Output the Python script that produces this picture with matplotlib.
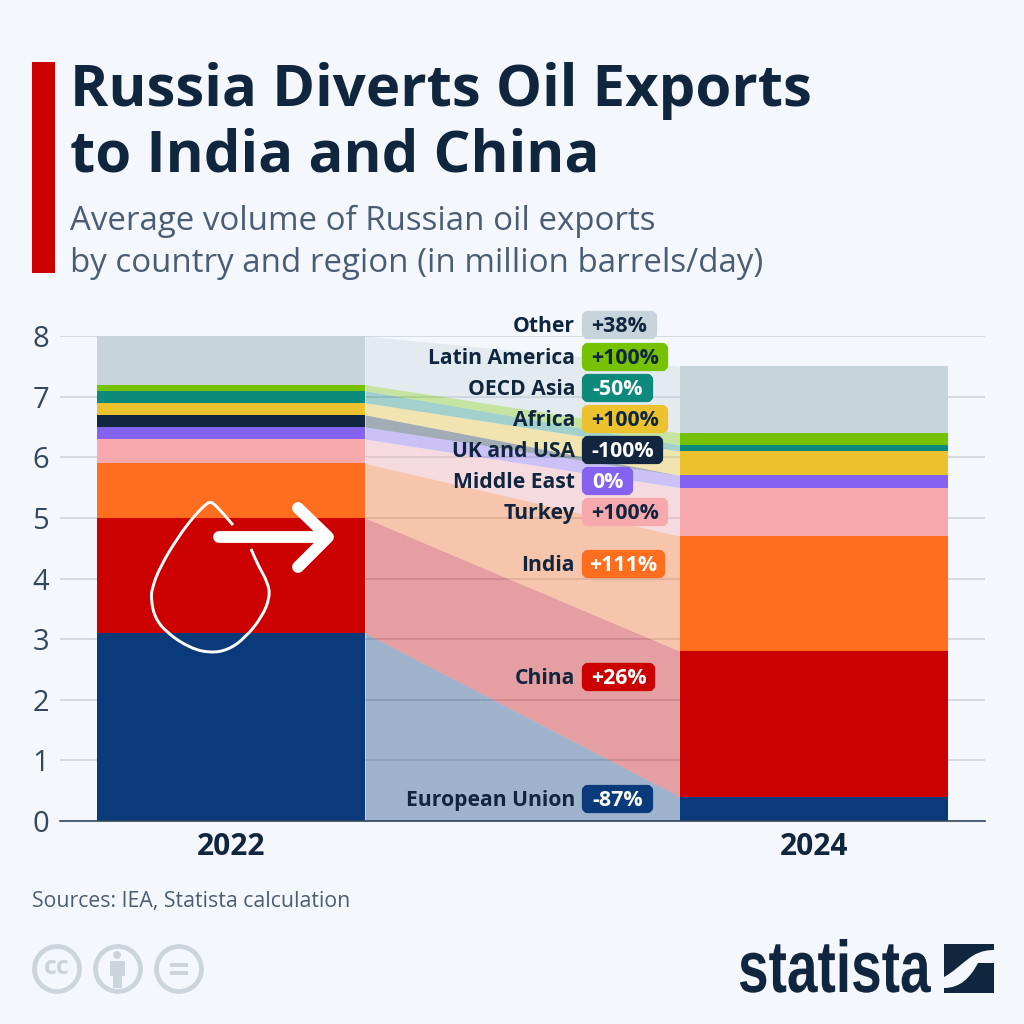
import matplotlib.pyplot as plt
from matplotlib.patches import Circle, FancyBboxPatch, PathPatch, Rectangle
from matplotlib.patheffects import AbstractPathEffect
from matplotlib.path import Path
from matplotlib.transforms import Affine2D

BG = '#f4f8fc'
NAVY = '#10263f'
SLATE = '#4a5d75'
ICON = '#ccd5dc'

plt.rcParams['font.family'] = ['Open Sans', 'DejaVu Sans']

years = ['2022', '2024']
regions = ['European Union', 'China', 'India', 'Turkey', 'Middle East',
           'UK and USA', 'Africa', 'OECD Asia', 'Latin America', 'Other']
volume_2022 = [3.1, 1.9, 0.9, 0.4, 0.2, 0.2, 0.2, 0.2, 0.1, 0.8]
volume_2024 = [0.4, 2.4, 1.9, 0.8, 0.2, 0.0, 0.4, 0.1, 0.2, 1.1]
changes = ['-87%', '+26%', '+111%', '+100%', '0%',
           '-100%', '+100%', '-50%', '+100%', '+38%']
colors = ['#0b3a7a', '#cc0000', '#ff6d1f', '#f7a9ae', '#8662f0',
          '#12263f', '#ecc32e', '#0e8a7c', '#77c200', '#c7d4dc']
badge_text = ['white', 'white', 'white', NAVY, 'white',
              'white', NAVY, 'white', NAVY, NAVY]

# pixel layout of the labels in the middle, same order as regions
label_y = [799, 677, 564, 512, 481, 450, 419, 388, 357, 325]
badge_w = [71, 73, 83, 86, 51, 81, 86, 71, 86, 75]

BAR_W = 268 / 583


class StretchY(AbstractPathEffect):
    # the logo lettering is much narrower than any installed font
    def __init__(self, factor):
        super().__init__()
        self.factor = factor

    def draw_path(self, renderer, gc, tpath, affine, rgbFace=None):
        renderer.draw_path(gc, tpath, Affine2D().scale(1, self.factor) + affine, rgbFace)


fig = plt.figure(figsize=(10.24, 10.24), dpi=100, facecolor=BG)

# chart axes, 0 to 8 runs from y=821 to y=336 in the picture
ax = fig.add_axes([60 / 1024, 1 - 821 / 1024, 925 / 1024, 485 / 1024])
ax.set_facecolor('none')
ax.set_xlim(-171 / 583, 1 + 171 / 583)
ax.set_ylim(0, 8)

bottom_a, bottom_b = 0, 0
for i, region in enumerate(regions):
    a, b = volume_2022[i], volume_2024[i]
    ax.bar(0, a, BAR_W, bottom=bottom_a, color=colors[i], zorder=3)
    ax.bar(1, b, BAR_W, bottom=bottom_b, color=colors[i], zorder=3)
    ax.fill_between([BAR_W / 2, 1 - BAR_W / 2],
                    [bottom_a, bottom_b],
                    [bottom_a + a, bottom_b + b],
                    color=colors[i], alpha=0.36, lw=0, zorder=2)
    bottom_a += a
    bottom_b += b

ax.set_yticks(range(9))
ax.set_xticks([0, 1], years, fontsize=21.5, fontweight='bold', color=NAVY)
ax.tick_params(axis='x', length=0, pad=8)
ax.tick_params(axis='y', length=0, pad=8, labelsize=21, labelcolor='#33475f')
ax.grid(axis='y', color='#c9d2da', lw=1.1, zorder=1)
for side in ['top', 'left', 'right']:
    ax.spines[side].set_visible(False)
ax.spines['bottom'].set_color('#33475f')
ax.spines['bottom'].set_linewidth(1.2)
ax.spines['bottom'].set_zorder(5)
ax.set_axisbelow(True)

# overlay in picture pixels for header, badges, footer and the hand drawing
ov = fig.add_axes([0, 0, 1, 1], zorder=10)
ov.set_xlim(0, 1024)
ov.set_ylim(1024, 0)
ov.axis('off')

ov.add_patch(Rectangle((32, 62), 23, 211, color='#cc0000', lw=0))
ov.text(70, 91, 'Russia Diverts Oil Exports', fontsize=41.9, fontweight='bold',
        color=NAVY, va='center')
ov.text(70, 157, 'to India and China', fontsize=41.9, fontweight='bold',
        color=NAVY, va='center')
ov.text(70, 221, 'Average volume of Russian oil exports', fontsize=23.75,
        color=SLATE, va='center')
ov.text(70, 263, 'by country and region (in million barrels/day)', fontsize=23.75,
        color=SLATE, va='center')

for i, region in enumerate(regions):
    y = label_y[i]
    ov.text(575, y + 1.5, region, fontsize=15.2, fontweight='bold', color=NAVY,
            ha='right', va='center')
    ov.add_patch(FancyBboxPatch((585, y - 11), badge_w[i] - 6, 22,
                                boxstyle='round,pad=0,rounding_size=3', mutation_aspect=1,
                                fc=colors[i], ec=colors[i], lw=4.5))
    ov.text(582 + badge_w[i] / 2, y + 1.5, changes[i], fontsize=15.4, fontweight='bold',
            color=badge_text[i], ha='center', va='center')

# hand drawn drop and arrow on the 2022 bar
drop_pts = [(233, 525), (222, 512), (213, 503), (210, 502), (206, 504), (195, 515),
            (178, 537), (160, 567), (152, 588), (151, 600), (155, 618), (167, 633),
            (190, 648), (210, 653), (228, 650), (245, 638), (262, 617), (270, 597),
            (268, 583), (258, 565), (251, 549)]
verts = [drop_pts[0]]
codes = [Path.MOVETO]
for p, q in zip(drop_pts[1:-1], drop_pts[2:]):
    verts += [p, ((p[0] + q[0]) / 2, (p[1] + q[1]) / 2)]
    codes += [Path.CURVE3, Path.CURVE3]
verts.append(drop_pts[-1])
codes.append(Path.LINETO)
ov.add_patch(PathPatch(Path(verts, codes), fc='none', ec='white', lw=2.1))
ov.plot([219, 326], [537, 537], color='white', lw=8.5, solid_capstyle='round')
ov.plot([298, 328, 298], [508, 537, 567], color='white', lw=8.5,
        solid_capstyle='round', solid_joinstyle='round')

ov.text(32, 901, 'Sources: IEA, Statista calculation', fontsize=15.3,
        color=SLATE, va='center')

# creative commons icons
for cx in [57, 118, 179]:
    ov.add_patch(Circle((cx, 969), 22.5, fc='none', ec=ICON, lw=3.4))
ov.text(57, 967, 'cc', fontsize=18, fontweight='bold', color=ICON,
        ha='center', va='center')
ov.add_patch(Circle((117, 955), 4, fc=ICON, lw=0))
ov.add_patch(Rectangle((110, 961), 15, 15, fc=ICON, lw=0))
ov.add_patch(Rectangle((113, 974), 9, 14, fc=ICON, lw=0))
ov.add_patch(Rectangle((170, 963), 18, 4, fc=ICON, lw=0))
ov.add_patch(Rectangle((170, 971), 18, 4, fc=ICON, lw=0))

# statista logo
ov.text(738, 992, 'statista', fontsize=39.6, fontweight='bold', color=NAVY,
        family='Liberation Sans', va='baseline', path_effects=[StretchY(1.33)])
ov.add_patch(Rectangle((944, 944), 50, 49, fc=NAVY, lw=0))
swoosh = Path([(994, 950), (970, 950), (964, 966), (944, 977),
               (944, 988), (960, 988), (970, 978), (978, 963),
               (994, 963), (994, 950)],
              [Path.MOVETO, Path.CURVE4, Path.CURVE4, Path.CURVE4,
               Path.LINETO, Path.CURVE4, Path.CURVE4, Path.CURVE4,
               Path.LINETO, Path.CLOSEPOLY])
ov.add_patch(PathPatch(swoosh, fc=BG, lw=0))

fig.savefig('out.png', dpi=100, facecolor=BG)
